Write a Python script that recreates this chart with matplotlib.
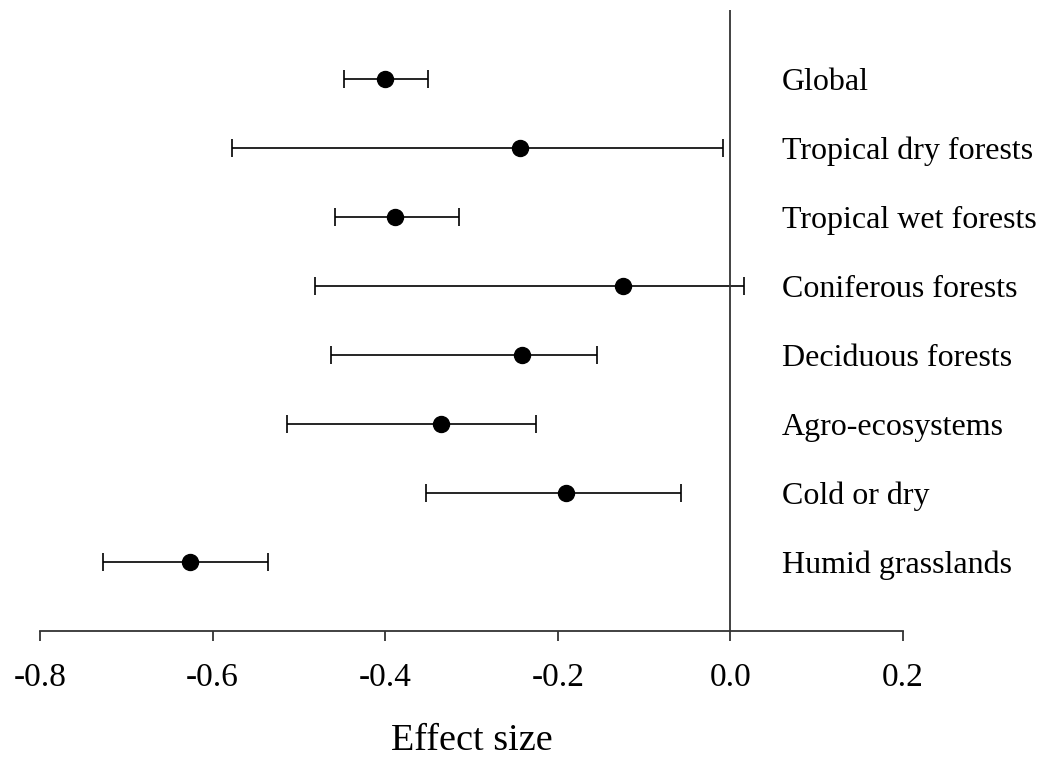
import matplotlib.pyplot as plt

# effect sizes with 95% CI per ecosystem
labels = ["Global", "Tropical dry forests", "Tropical wet forests", "Coniferous forests",
          "Deciduous forests", "Agro-ecosystems", "Cold or dry", "Humid grasslands"]
effect = [-0.400, -0.244, -0.389, -0.125, -0.242, -0.335, -0.190, -0.626]
ci_low = [-0.448, -0.577, -0.458, -0.481, -0.463, -0.514, -0.353, -0.727]
ci_high = [-0.350, -0.008, -0.314, 0.016, -0.155, -0.225, -0.057, -0.536]
xticks = [-0.8, -0.6, -0.4, -0.2, 0.0, 0.2]

plt.rcParams['font.family'] = ['Liberation Serif', 'DejaVu Serif']

fig = plt.figure(figsize=(10.48, 7.57), dpi=100)
ax = fig.add_axes([40 / 1048, 126 / 757, 863 / 1048, 621 / 757])

ypos = list(range(len(labels), 0, -1))
xerr = [[e - lo for e, lo in zip(effect, ci_low)], [hi - e for e, hi in zip(effect, ci_high)]]
ax.errorbar(effect, ypos, xerr=xerr, fmt='o', color='black', ms=11.5,
            elinewidth=1.2, capsize=6.5, capthick=1.2)
ax.axvline(0, color='#333333', lw=1.3)

for y, lab in zip(ypos, labels):
    ax.text(0.060, y, lab, fontsize=23, va='center_baseline', ha='left')

ax.set_xlim(-0.8, 0.2)
ax.set_ylim(0, 9)
ax.set_xticks(xticks)
ax.set_xticklabels([f"{t:.1f}" for t in xticks], fontsize=24)
ax.tick_params(axis='x', direction='out', length=7, width=1.3, color='#333333', pad=16)
ax.set_yticks([])
for s in ['left', 'right', 'top']:
    ax.spines[s].set_visible(False)
ax.spines['bottom'].set_linewidth(1.3)
ax.spines['bottom'].set_color('#333333')
ax.set_xlabel("Effect size", fontsize=27.5, labelpad=22)

fig.savefig("out.png", dpi=100)
